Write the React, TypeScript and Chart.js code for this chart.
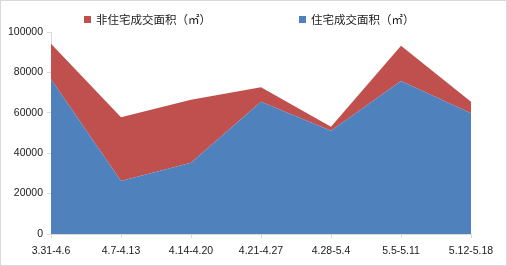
import React, { useEffect, useRef } from "react";
import { Chart, registerables } from "chart.js";

Chart.register(...registerables);

const categories = ["3.31-4.6", "4.7-4.13", "4.14-4.20", "4.21-4.27", "4.28-5.4", "5.5-5.11", "5.12-5.18"];
const residential = [76600, 26200, 35300, 65500, 51100, 75800, 59800];
const nonResidential = [17600, 31600, 31100, 7200, 2000, 17400, 5700];
const seriesNames = ["非住宅成交面积（㎡）", "住宅成交面积（㎡）"];
const yMin = 0;
const yMax = 100000;
const yStep = 20000;

const RED = "#C0504D";
const BLUE = "#4F81BD";
const AXIS = "#d9d9d9";
const TEXT = "#1a1a1a";
const TICK_FONT = { family: "'Liberation Sans', Arial, sans-serif", size: 10.5 };

export default function App() {
  const ref = useRef<HTMLCanvasElement | null>(null);

  useEffect(() => {
    if (!ref.current) return;
    const chart = new Chart(ref.current, {
      type: "line",
      data: {
        labels: categories,
        datasets: [
          {
            label: seriesNames[1],
            data: residential,
            backgroundColor: BLUE,
            borderColor: BLUE,
            borderWidth: 0,
            fill: "origin",
            pointRadius: 0,
            tension: 0,
          },
          {
            label: seriesNames[0],
            data: nonResidential,
            backgroundColor: RED,
            borderColor: RED,
            borderWidth: 0,
            fill: "-1",
            pointRadius: 0,
            tension: 0,
          },
        ],
      },
      options: {
        responsive: false,
        animation: false,
        devicePixelRatio: 1,
        layout: { padding: { top: 31, right: 35, left: 0, bottom: 0 } },
        plugins: { legend: { display: false }, tooltip: { enabled: false } },
        scales: {
          x: {
            offset: false,
            grid: { drawOnChartArea: false, drawTicks: true, tickLength: 4, color: AXIS },
            border: { color: AXIS },
            ticks: { font: TICK_FONT, color: TEXT, padding: 7, maxRotation: 0, autoSkip: false },
            afterFit: (s: any) => {
              s.height = 31;
            },
          },
          y: {
            stacked: true,
            min: yMin,
            max: yMax,
            grid: { drawOnChartArea: false, drawTicks: true, tickLength: 4, color: AXIS },
            border: { color: AXIS },
            ticks: {
              stepSize: yStep,
              font: TICK_FONT,
              color: TEXT,
              padding: 4,
              callback: (v: any) => String(v),
            },
            afterFit: (s: any) => {
              s.width = 50;
            },
          },
        },
      },
    });
    return () => chart.destroy();
  }, []);

  const legendItem = (name: string, color: string) => (
    <div style={{ display: "flex", alignItems: "center" }}>
      <span style={{ width: 7, height: 7, background: color, display: "inline-block", marginRight: 5 }} />
      <span
        style={{
          fontFamily: "'Noto Sans CJK SC', sans-serif",
          fontSize: 11.5,
          color: TEXT,
          lineHeight: "14px",
          whiteSpace: "nowrap",
        }}
      >
        {name}
      </span>
    </div>
  );

  return (
    <div
      style={{
        position: "fixed",
        left: 0,
        top: 0,
        width: 507,
        height: 266,
        boxSizing: "border-box",
        border: `1px solid ${AXIS}`,
        background: "#fff",
      }}
    >
      <canvas ref={ref} width={505} height={264} style={{ display: "block" }} />
      <div style={{ position: "absolute", top: 11, left: 83, display: "flex", gap: 88 }}>
        {legendItem(seriesNames[0], RED)}
        {legendItem(seriesNames[1], BLUE)}
      </div>
    </div>
  );
}
